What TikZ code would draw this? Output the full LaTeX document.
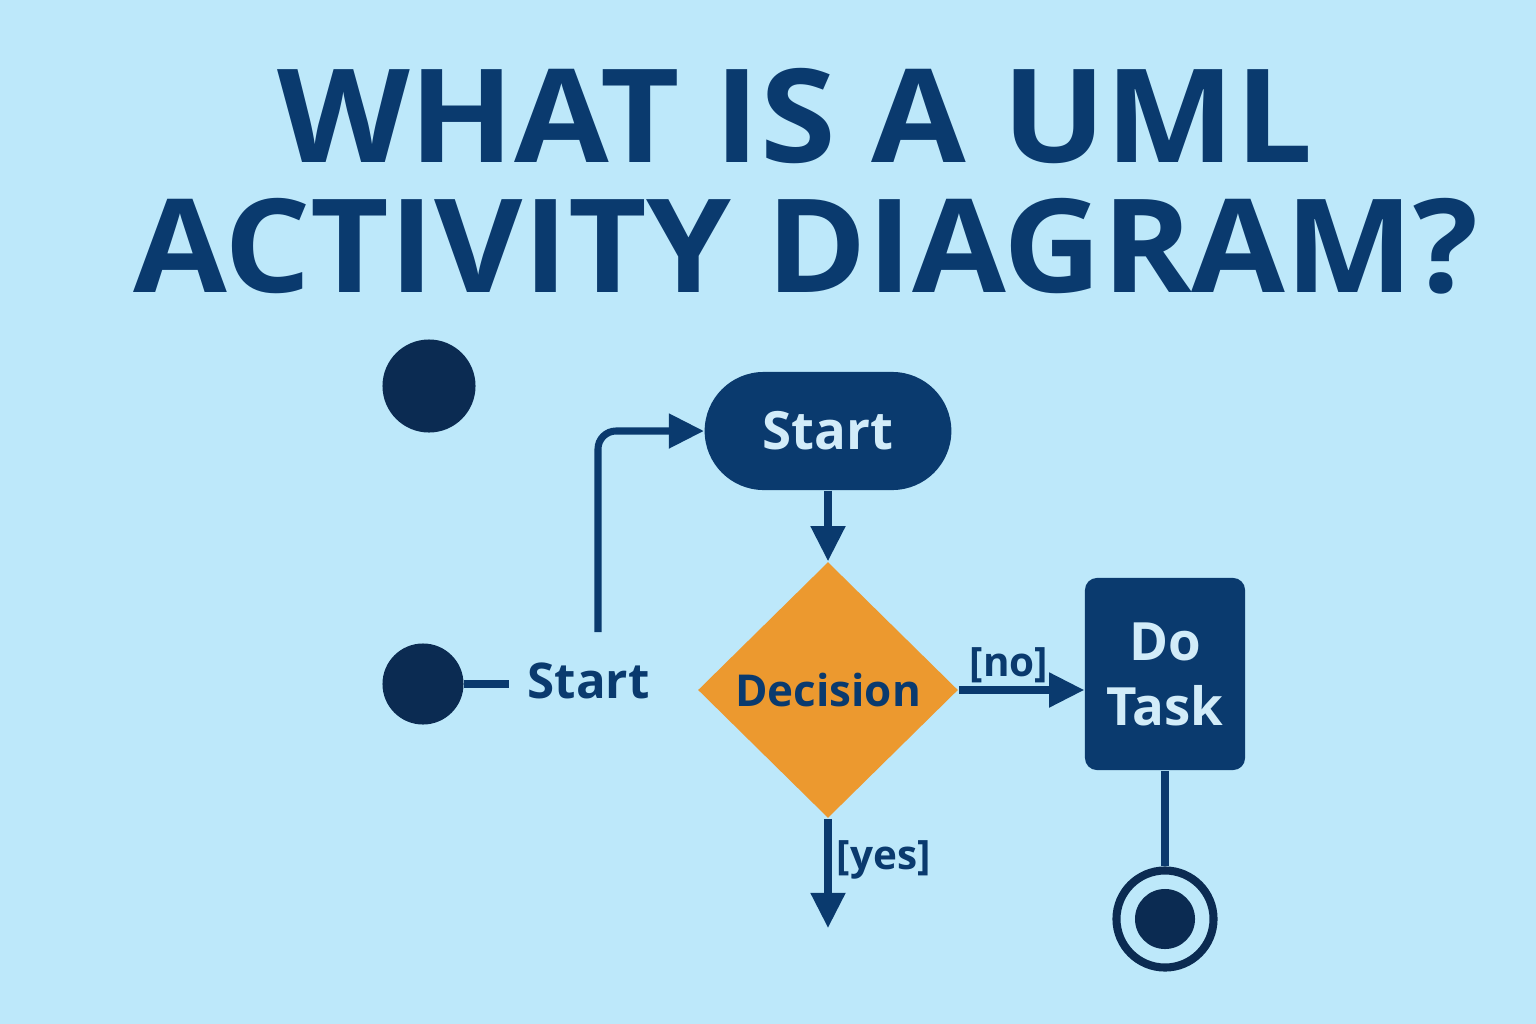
\documentclass[tikz,border=0pt]{standalone}
\usepackage{fontspec}
\setmainfont{Open Sans}
\usetikzlibrary{arrows.meta,shapes.geometric,shapes.misc,positioning}
\definecolor{bgblue}{HTML}{BDE8FA}
\definecolor{navy}{HTML}{0A3A6E}
\definecolor{deepnavy}{HTML}{0B2B52}
\definecolor{paleblue}{HTML}{D2ECF9}
\definecolor{decorange}{HTML}{EC992F}
\tikzset{
  flow/.style={navy,line width=2pt},
  flowarrow/.style={flow,-{Triangle[length=10pt,width=9.5pt]}},
  dot/.style={circle,fill=deepnavy,inner sep=0pt},
  darkbox/.style={fill=navy,text=paleblue,font=\bfseries\fontsize{15}{18.5}\selectfont},
  guard/.style={text=navy,font=\bfseries\fontsize{11.5}{13}\selectfont,inner sep=1pt},
  headline/.style={anchor=base,text=navy,font=\bfseries\fontsize{37}{40}\selectfont},
}

\begin{document}
\begin{tikzpicture}[x=0.01cm,y=-0.01cm]
  % background
  \fill[bgblue] (0,0) rectangle (1536,1024);
  \useasboundingbox (0,0) rectangle (1536,1024);
  % title
  \node [headline] (title1) at (795,162) {\scalebox{1.055}[1]{WHAT IS A UML}};
  \node [headline] (title2) at (806,292) {\scalebox{1.045}[1]{ACTIVITY DIAGRAM?}};
  % initial nodes
  \node [dot,minimum size=0.93cm] (initial1) at (429,386) {};
  \node [dot,minimum size=0.81cm] (initial2) at (423,684) {};
  \node [anchor=west,inner sep=0pt,text=navy,
    font=\bfseries\fontsize{14}{17}\selectfont]
    (startlabel) at (527,681) {Start};
  \draw [flow]
    (initial2.east) -- ++(45,0)
  ;
  % start action
  \node [darkbox,rounded rectangle,minimum width=2.7cm,minimum height=1.18cm]
    (start) at (828,431) {Start};
  \coordinate (loopfoot) at (598,632);
  \draw [flowarrow,rounded corners=0.18cm]
    (loopfoot) |- (start.west)
  ;
  % decision
  \node [diamond,fill=decorange,inner sep=0pt,minimum width=2.6cm,
    minimum height=2.56cm,text=navy,font=\bfseries\fontsize{12.5}{15}\selectfont]
    (decision) at (828,690) {Decision};
  \draw [flowarrow]
    (start.south) -- (decision.north)
  ;
  % do task
  \node [darkbox,rectangle,rounded corners=0.12cm,minimum width=1.6cm,
    minimum height=1.92cm,align=center]
    (task) at (1165,674) {Do\\Task};
  \draw [flowarrow]
    (decision.east) -- (decision.east -| task.west)
      node [guard,pos=0.4,above] {[no]}
  ;
  % yes branch
  \coordinate (yesend) at (828,928);
  \draw [flowarrow]
    (decision.south) -- (yesend)
      node [guard,pos=0.38,right=0.5pt] {[yes]}
  ;
  % final node
  \node [circle,draw=deepnavy,line width=2.3pt,fill=bgblue,minimum size=0.97cm]
    (final) at (1165,919) {};
  \node [dot,minimum size=0.6cm] at (final.center) {};
  \draw [flow]
    (task.south) -- (final.north)
  ;
\end{tikzpicture}
\end{document}
